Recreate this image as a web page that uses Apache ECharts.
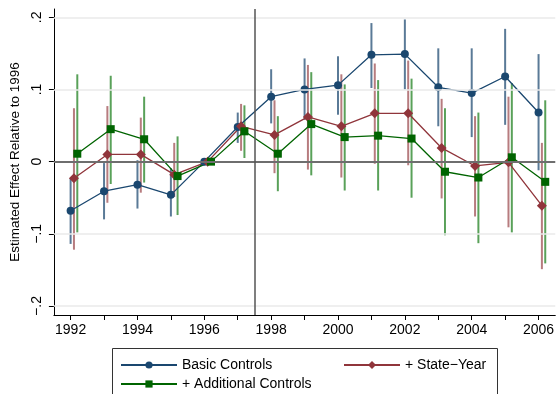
<!DOCTYPE html>
<html>
<head>
<meta charset="utf-8">
<script src="https://cdn.jsdelivr.net/npm/echarts@6/dist/echarts.min.js"></script>
<style>html,body{margin:0;padding:0;background:#fff}#c{width:557px;height:394px}</style>
</head>
<body>
<div id="c"></div>
<script>
const years = [1992,1993,1994,1995,1996,1997,1998,1999,2000,2001,2002,2003,2004,2005,2006];
const basic   = [-0.068,-0.041,-0.032,-0.046,0,0.048,0.090,0.100,0.106,0.148,0.149,0.103,0.095,0.118,0.068];
const basicLo = [-0.114,-0.080,-0.065,-0.076,0,0.026,0.053,0.058,0.065,0.102,0.100,0.049,0.034,0.051,-0.012];
const basicHi = [-0.023,-0.002,0.002,-0.009,0,0.068,0.128,0.143,0.146,0.192,0.197,0.157,0.157,0.184,0.149];
const stateYear   = [-0.023,0.010,0.010,-0.018,0,0.049,0.037,0.062,0.049,0.067,0.067,0.019,-0.006,-0.001,-0.061];
const stateYearLo = [-0.122,-0.057,-0.043,-0.049,0,0.015,-0.016,-0.011,-0.022,-0.003,-0.005,-0.051,-0.076,-0.091,-0.149];
const stateYearHi = [0.074,0.077,0.061,0.026,0,0.080,0.085,0.134,0.121,0.136,0.140,0.087,0.063,0.090,0.026];
const additional   = [0.011,0.045,0.031,-0.020,0,0.042,0.011,0.052,0.034,0.036,0.032,-0.014,-0.022,0.006,-0.028];
const additionalLo = [-0.098,-0.031,-0.029,-0.074,0,0.005,-0.041,-0.019,-0.040,-0.040,-0.050,-0.102,-0.113,-0.098,-0.141];
const additionalHi = [0.121,0.119,0.090,0.035,0,0.078,0.063,0.124,0.107,0.113,0.115,0.074,0.068,0.109,0.085];
const yTicks = [-0.2,-0.1,0,0.1,0.2];
const yTickLabels = ['\u2212.2','\u2212.1','0','.1','.2'];
const xLabelYears = [1992,1994,1996,1998,2000,2002,2004,2006];
const policyLine = 1997.5;

const FONT = "'Liberation Sans', Arial, Helvetica, sans-serif";
const C_BLUE = '#1a476f', C_RED = '#90353b', C_GREEN = '#006400';
const B_BLUE = 'rgba(26,71,111,0.72)', B_RED = 'rgba(144,53,59,0.65)', B_GREEN = 'rgba(0,110,0,0.65)';

function pts(vals, off){ return years.map((y,i)=>[y+off, vals[i]]); }
function bars(lo, hi, off){ return years.map((y,i)=>[y+off, lo[i], hi[i]]); }
function errSeries(name, data, color){
  return {
    type:'custom', name:name, z:2, silent:true,
    data:data, encode:{x:0,y:[1,2]},
    renderItem:function(params, api){
      const x = api.value(0);
      const a = api.coord([x, api.value(1)]);
      const b = api.coord([x, api.value(2)]);
      return {type:'line', shape:{x1:a[0],y1:a[1],x2:b[0],y2:b[1]}, style:{stroke:color, lineWidth:2}};
    }
  };
}
function lineSeries(name, data, color, symbol, size){
  return {
    type:'line', name:name, data:data, z:4,
    symbol:symbol, symbolSize:size, showSymbol:true,
    itemStyle:{color:color}, lineStyle:{color:color, width:1.3},
    emphasis:{disabled:true}, animation:false
  };
}

const yLabelMap = {};
yTicks.forEach((v,i)=>{ yLabelMap[v.toFixed(1)] = yTickLabels[i]; });

const chart = echarts.init(document.getElementById('c'), null, {renderer:'canvas'});
chart.setOption({
  animation:false,
  backgroundColor:'#fff',
  textStyle:{fontFamily:FONT},
  grid:{left:50, top:9, width:510, height:306},
  xAxis:{
    type:'value', min:1991.5, max:2006.5,
    axisLine:{onZero:false, lineStyle:{color:'#000', width:1}},
    axisTick:{show:true, length:5, lineStyle:{color:'#000'}, customValues:years},
    axisLabel:{customValues:xLabelYears, color:'#000', fontSize:14, fontFamily:FONT, margin:8,
      formatter:v=>String(Math.round(v))},
    splitLine:{show:false}
  },
  yAxis:{
    type:'value', min:-0.2125, max:0.2115,
    name:'Estimated Effect Relative to 1996', nameLocation:'middle', nameGap:31, nameRotate:90,
    nameTextStyle:{color:'#000', fontSize:13.5, fontFamily:FONT},
    axisLine:{show:true, lineStyle:{color:'#000', width:1}},
    axisTick:{show:true, length:5, lineStyle:{color:'#000'}, customValues:yTicks},
    axisLabel:{customValues:yTicks, rotate:90, color:'#000', fontSize:14, fontFamily:FONT, margin:10,
      formatter:v=>yLabelMap[(Math.round(v*10)/10).toFixed(1)] || ''},
    splitLine:{show:false}
  },
  legend:[
    {data:['Basic Controls','+ Additional Controls'], orient:'vertical', left:115, top:353, height:60,
     itemWidth:56, itemHeight:9, itemGap:5, textStyle:{color:'#000', fontSize:14, fontFamily:FONT},
     selectedMode:false},
    {data:['+ State\u2212Year'], orient:'vertical', left:338, top:353, height:60,
     itemWidth:56, itemHeight:10, textStyle:{color:'#000', fontSize:14, fontFamily:FONT},
     selectedMode:false}
  ],
  graphic:[{type:'rect', shape:{x:112.5, y:348.5, width:385, height:60}, style:{fill:'none', stroke:'#333', lineWidth:1}, z:-1}],
  series:[
    {type:'line', name:'refs', data:[], z:1, silent:true,
     markLine:{silent:true, symbol:'none', label:{show:false}, animation:false,
       data:[
         {yAxis:0.1, lineStyle:{color:'#eaeaea', width:1.6, type:'solid'}},
         {yAxis:0.2, lineStyle:{color:'#eaeaea', width:1.6, type:'solid'}},
         {yAxis:-0.1, lineStyle:{color:'#eaeaea', width:1.6, type:'solid'}},
         {yAxis:-0.2, lineStyle:{color:'#eaeaea', width:1.6, type:'solid'}},
         {yAxis:0, lineStyle:{color:'#6e6e6e', width:2, type:'solid'}},
         {xAxis:policyLine, lineStyle:{color:'#555', width:1.5, type:'solid'}}
       ]}},
    errSeries('basicCI', bars(basicLo, basicHi, 0), B_BLUE),
    errSeries('stateCI', bars(stateYearLo, stateYearHi, 0.1), B_RED),
    errSeries('addCI', bars(additionalLo, additionalHi, 0.2), B_GREEN),
    lineSeries('Basic Controls', pts(basic, 0), C_BLUE, 'circle', 8),
    lineSeries('+ State\u2212Year', pts(stateYear, 0.1), C_RED, 'diamond', 10),
    lineSeries('+ Additional Controls', pts(additional, 0.2), C_GREEN, 'rect', 8)
  ]
});
</script>
</body>
</html>
